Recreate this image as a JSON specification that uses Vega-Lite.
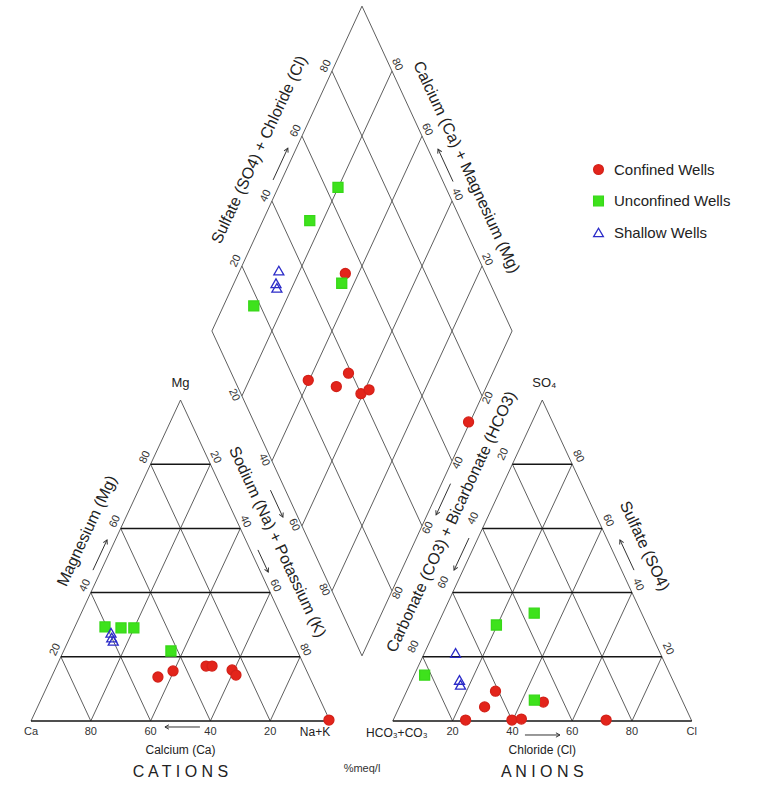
{
  "$schema": "https://vega.github.io/schema/vega-lite/v6.json",
  "width": 758,
  "height": 785,
  "padding": 0,
  "autosize": {"type": "none"},
  "background": "#ffffff",
  "config": {
    "view": {"stroke": null},
    "text": {"font": "Liberation Sans"},
    "legend": {"labelFont": "Liberation Sans"}
  },
  "datasets": {
    "samples": [
      {"well": "Confined Wells", "Ca": 50.7, "Mg": 13.7, "NaK": 35.6, "HCO3": 46.7, "SO4": 5.9, "Cl": 47.4},
      {"well": "Confined Wells", "Ca": 44.7, "Mg": 15.6, "NaK": 39.7, "HCO3": 75.5, "SO4": 0.3, "Cl": 24.2},
      {"well": "Confined Wells", "Ca": 32.9, "Mg": 17.1, "NaK": 50.0, "HCO3": 67.1, "SO4": 4.4, "Cl": 28.5},
      {"well": "Confined Wells", "Ca": 30.9, "Mg": 17.1, "NaK": 52.0, "HCO3": 61.0, "SO4": 9.3, "Cl": 29.7},
      {"well": "Confined Wells", "Ca": 24.8, "Mg": 15.9, "NaK": 59.3, "HCO3": 60.0, "SO4": 0.3, "Cl": 39.7},
      {"well": "Confined Wells", "Ca": 24.3, "Mg": 14.3, "NaK": 61.4, "HCO3": 56.7, "SO4": 0.6, "Cl": 42.7},
      {"well": "Confined Wells", "Ca": 0.2, "Mg": 0.3, "NaK": 99.5, "HCO3": 28.5, "SO4": 0.3, "Cl": 71.2},
      {"well": "Unconfined Wells", "Ca": 60.6, "Mg": 29.3, "NaK": 10.1, "HCO3": 82.2, "SO4": 14.3, "Cl": 3.5},
      {"well": "Unconfined Wells", "Ca": 55.4, "Mg": 29.0, "NaK": 15.6, "HCO3": 50.4, "SO4": 29.9, "Cl": 19.7},
      {"well": "Unconfined Wells", "Ca": 51.1, "Mg": 29.0, "NaK": 19.9, "HCO3": 35.9, "SO4": 33.6, "Cl": 30.5},
      {"well": "Unconfined Wells", "Ca": 42.3, "Mg": 21.8, "NaK": 35.9, "HCO3": 49.4, "SO4": 6.5, "Cl": 44.1},
      {"well": "Shallow Wells", "Ca": 59.5, "Mg": 27.5, "NaK": 13.0, "HCO3": 68.4, "SO4": 21.2, "Cl": 10.4},
      {"well": "Shallow Wells", "Ca": 60.0, "Mg": 26.0, "NaK": 14.0, "HCO3": 71.3, "SO4": 12.8, "Cl": 15.9},
      {"well": "Shallow Wells", "Ca": 60.0, "Mg": 25.0, "NaK": 15.0, "HCO3": 71.7, "SO4": 11.3, "Cl": 17.0}
    ],
    "grid": [
      {"panel": "cat", "a1": 0, "b1": 0, "a2": 0, "b2": 100},
      {"panel": "cat", "a1": 20, "b1": 0, "a2": 20, "b2": 80},
      {"panel": "cat", "a1": 40, "b1": 0, "a2": 40, "b2": 60},
      {"panel": "cat", "a1": 60, "b1": 0, "a2": 60, "b2": 40},
      {"panel": "cat", "a1": 80, "b1": 0, "a2": 80, "b2": 20},
      {"panel": "cat", "a1": 0, "b1": 0, "a2": 100, "b2": 0},
      {"panel": "cat", "a1": 0, "b1": 20, "a2": 80, "b2": 20},
      {"panel": "cat", "a1": 0, "b1": 40, "a2": 60, "b2": 40},
      {"panel": "cat", "a1": 0, "b1": 60, "a2": 40, "b2": 60},
      {"panel": "cat", "a1": 0, "b1": 80, "a2": 20, "b2": 80},
      {"panel": "cat", "a1": 0, "b1": 100, "a2": 100, "b2": 0},
      {"panel": "cat", "a1": 0, "b1": 80, "a2": 80, "b2": 0},
      {"panel": "cat", "a1": 0, "b1": 60, "a2": 60, "b2": 0},
      {"panel": "cat", "a1": 0, "b1": 40, "a2": 40, "b2": 0},
      {"panel": "cat", "a1": 0, "b1": 20, "a2": 20, "b2": 0},
      {"panel": "an", "a1": 0, "b1": 0, "a2": 0, "b2": 100},
      {"panel": "an", "a1": 20, "b1": 0, "a2": 20, "b2": 80},
      {"panel": "an", "a1": 40, "b1": 0, "a2": 40, "b2": 60},
      {"panel": "an", "a1": 60, "b1": 0, "a2": 60, "b2": 40},
      {"panel": "an", "a1": 80, "b1": 0, "a2": 80, "b2": 20},
      {"panel": "an", "a1": 0, "b1": 0, "a2": 100, "b2": 0},
      {"panel": "an", "a1": 0, "b1": 20, "a2": 80, "b2": 20},
      {"panel": "an", "a1": 0, "b1": 40, "a2": 60, "b2": 40},
      {"panel": "an", "a1": 0, "b1": 60, "a2": 40, "b2": 60},
      {"panel": "an", "a1": 0, "b1": 80, "a2": 20, "b2": 80},
      {"panel": "an", "a1": 0, "b1": 100, "a2": 100, "b2": 0},
      {"panel": "an", "a1": 0, "b1": 80, "a2": 80, "b2": 0},
      {"panel": "an", "a1": 0, "b1": 60, "a2": 60, "b2": 0},
      {"panel": "an", "a1": 0, "b1": 40, "a2": 40, "b2": 0},
      {"panel": "an", "a1": 0, "b1": 20, "a2": 20, "b2": 0},
      {"panel": "dia", "a1": 0, "b1": 0, "a2": 0, "b2": 100},
      {"panel": "dia", "a1": 20, "b1": 0, "a2": 20, "b2": 100},
      {"panel": "dia", "a1": 40, "b1": 0, "a2": 40, "b2": 100},
      {"panel": "dia", "a1": 60, "b1": 0, "a2": 60, "b2": 100},
      {"panel": "dia", "a1": 80, "b1": 0, "a2": 80, "b2": 100},
      {"panel": "dia", "a1": 100, "b1": 0, "a2": 100, "b2": 100},
      {"panel": "dia", "a1": 0, "b1": 0, "a2": 100, "b2": 0},
      {"panel": "dia", "a1": 0, "b1": 20, "a2": 100, "b2": 20},
      {"panel": "dia", "a1": 0, "b1": 40, "a2": 100, "b2": 40},
      {"panel": "dia", "a1": 0, "b1": 60, "a2": 100, "b2": 60},
      {"panel": "dia", "a1": 0, "b1": 80, "a2": 100, "b2": 80},
      {"panel": "dia", "a1": 0, "b1": 100, "a2": 100, "b2": 100}
    ],
    "annot": [
      {"edge": "catL", "kind": "tick", "v": 20, "label": "20"},
      {"edge": "catL", "kind": "tick", "v": 40, "label": "40"},
      {"edge": "catL", "kind": "tick", "v": 60, "label": "60"},
      {"edge": "catL", "kind": "tick", "v": 80, "label": "80"},
      {"edge": "catL", "kind": "vertex", "v": 100, "label": "Mg"},
      {"edge": "catL", "kind": "title", "v": 55.3, "label": "Magnesium (Mg)"},
      {"edge": "catL", "kind": "arrow", "v": 47, "v2": 56.4},
      {"edge": "catR", "kind": "tick", "v": 20, "label": "20"},
      {"edge": "catR", "kind": "tick", "v": 40, "label": "40"},
      {"edge": "catR", "kind": "tick", "v": 60, "label": "60"},
      {"edge": "catR", "kind": "tick", "v": 80, "label": "80"},
      {"edge": "catR", "kind": "title", "v": 47.9, "label": "Sodium (Na) + Potassium (K)"},
      {"edge": "catR", "kind": "arrow", "v": 46.7, "v2": 53.6},
      {"edge": "catB", "kind": "tick", "v": 20, "label": "20"},
      {"edge": "catB", "kind": "tick", "v": 40, "label": "40"},
      {"edge": "catB", "kind": "tick", "v": 60, "label": "60"},
      {"edge": "catB", "kind": "tick", "v": 80, "label": "80"},
      {"edge": "catB", "kind": "tick", "v": 100, "label": "Ca"},
      {"edge": "catB", "kind": "corner", "v": 0, "label": "Na+K"},
      {"edge": "catB", "kind": "sub", "v": 50, "label": "Calcium (Ca)"},
      {"edge": "catB", "kind": "head", "v": 50, "label": "C A T I O N S"},
      {"edge": "catB", "kind": "arrow", "v": 43.5, "v2": 55.2},
      {"edge": "dLL", "kind": "tick", "v": 20, "label": "20"},
      {"edge": "dLL", "kind": "tick", "v": 40, "label": "40"},
      {"edge": "dLL", "kind": "tick", "v": 60, "label": "60"},
      {"edge": "dLL", "kind": "tick", "v": 80, "label": "80"},
      {"edge": "dLL", "kind": "arrow", "v": 49, "v2": 57.3},
      {"edge": "dLL", "kind": "unit", "v": 100, "label": "%meq/l"},
      {"edge": "dUL", "kind": "tick", "v": 20, "label": "20"},
      {"edge": "dUL", "kind": "tick", "v": 40, "label": "40"},
      {"edge": "dUL", "kind": "tick", "v": 60, "label": "60"},
      {"edge": "dUL", "kind": "tick", "v": 80, "label": "80"},
      {"edge": "dUL", "kind": "title", "v": 51.5, "label": "Sulfate (SO4) + Chloride (Cl)"},
      {"edge": "dUL", "kind": "arrow", "v": 46.5, "v2": 56.3},
      {"edge": "dUR", "kind": "tick", "v": 20, "label": "20"},
      {"edge": "dUR", "kind": "tick", "v": 40, "label": "40"},
      {"edge": "dUR", "kind": "tick", "v": 60, "label": "60"},
      {"edge": "dUR", "kind": "tick", "v": 80, "label": "80"},
      {"edge": "dUR", "kind": "title", "v": 46.9, "label": "Calcium (Ca) + Magnesium (Mg)"},
      {"edge": "dUR", "kind": "arrow", "v": 46, "v2": 56},
      {"edge": "dLR", "kind": "tick", "v": 20, "label": "20"},
      {"edge": "dLR", "kind": "tick", "v": 40, "label": "40"},
      {"edge": "dLR", "kind": "tick", "v": 60, "label": "60"},
      {"edge": "dLR", "kind": "tick", "v": 80, "label": "80"},
      {"edge": "dLR", "kind": "title", "v": 55.5, "label": "Carbonate (CO3) + Bicarbonate (HCO3)"},
      {"edge": "dLR", "kind": "arrow", "v": 47, "v2": 56.6},
      {"edge": "anL", "kind": "tick", "v": 20, "label": "20"},
      {"edge": "anL", "kind": "tick", "v": 40, "label": "40"},
      {"edge": "anL", "kind": "tick", "v": 60, "label": "60"},
      {"edge": "anL", "kind": "tick", "v": 80, "label": "80"},
      {"edge": "anL", "kind": "arrow", "v": 43, "v2": 53},
      {"edge": "anR", "kind": "tick", "v": 20, "label": "20"},
      {"edge": "anR", "kind": "tick", "v": 40, "label": "40"},
      {"edge": "anR", "kind": "tick", "v": 60, "label": "60"},
      {"edge": "anR", "kind": "tick", "v": 80, "label": "80"},
      {"edge": "anR", "kind": "vertex", "v": 100, "label": "SO₄"},
      {"edge": "anR", "kind": "title", "v": 50.4, "label": "Sulfate (SO4)"},
      {"edge": "anR", "kind": "arrow", "v": 47, "v2": 56.4},
      {"edge": "anB", "kind": "tick", "v": 20, "label": "20"},
      {"edge": "anB", "kind": "tick", "v": 40, "label": "40"},
      {"edge": "anB", "kind": "tick", "v": 60, "label": "60"},
      {"edge": "anB", "kind": "tick", "v": 80, "label": "80"},
      {"edge": "anB", "kind": "tick", "v": 100, "label": "Cl"},
      {"edge": "anB", "kind": "corner", "v": 0, "label": "HCO₃+CO₃"},
      {"edge": "anB", "kind": "sub", "v": 50, "label": "Chloride (Cl)"},
      {"edge": "anB", "kind": "head", "v": 50, "label": "A N I O N S"},
      {"edge": "anB", "kind": "arrow", "v": 44.2, "v2": 55.9}
    ]
  },
  "encoding": {
    "x": {"field": "x", "type": "quantitative", "scale": {"domain": [-10.368, 243.144], "nice": false, "zero": false}, "axis": null},
    "y": {"field": "y", "type": "quantitative", "scale": {"domain": [-19.938, 224.611], "nice": false, "zero": false}, "axis": null}
  },
  "layer": [
    {
      "data": {"name": "grid"},
      "transform": [
        {"calculate": "datum.panel === 'dia' ? 60.5 + 0.502 * (datum.a1 + datum.b1) : (datum.panel === 'an' ? 121 : 0) + datum.b1 + datum.a1 / 2", "as": "x"},
        {"calculate": "datum.panel === 'dia' ? 121.5 + 1.012 * (datum.b1 - datum.a1) : datum.a1", "as": "y"},
        {"calculate": "datum.panel === 'dia' ? 60.5 + 0.502 * (datum.a2 + datum.b2) : (datum.panel === 'an' ? 121 : 0) + datum.b2 + datum.a2 / 2", "as": "x2"},
        {"calculate": "datum.panel === 'dia' ? 121.5 + 1.012 * (datum.b2 - datum.a2) : datum.a2", "as": "y2"}
      ],
      "encoding": {"x2": {"field": "x2"}, "y2": {"field": "y2"}},
      "layer": [
        {"transform": [{"filter": "datum.panel === 'dia' || datum.a1 !== datum.a2"}], "mark": {"type": "rule", "color": "#4d4d4d", "strokeWidth": 0.9}},
        {"transform": [{"filter": "datum.panel !== 'dia' && datum.a1 === datum.a2"}], "mark": {"type": "rule", "color": "#151515", "strokeWidth": 1.5}}
      ]
    },
    {
      "data": {"name": "annot"},
      "transform": [
        {"filter": "datum.edge === 'catL'"},
        {"calculate": "datum.v / 2", "as": "x"}, {"calculate": "datum.v", "as": "y"},
        {"calculate": "datum.v2 / 2", "as": "x2"}, {"calculate": "datum.v2", "as": "y2"}
      ],
      "layer": [
        {"transform": [{"filter": "datum.kind === 'tick'"}], "mark": {"type": "text", "angle": -65, "dx": 4, "dy": -8, "fontSize": 11, "color": "#333"}, "encoding": {"text": {"field": "label"}}},
        {"transform": [{"filter": "datum.kind === 'vertex'"}], "mark": {"type": "text", "dy": -17, "fontSize": 13, "color": "#222"}, "encoding": {"text": {"field": "label"}}},
        {"transform": [{"filter": "datum.kind === 'title'"}], "mark": {"type": "text", "angle": -65, "dy": -29.4, "fontSize": 16, "color": "#222"}, "encoding": {"text": {"field": "label"}}},
        {"transform": [{"filter": "datum.kind === 'arrow'"}], "mark": {"type": "rule", "color": "#333", "strokeWidth": 1, "xOffset": -8.3, "x2Offset": -8.3}, "encoding": {"x2": {"field": "x2"}, "y2": {"field": "y2"}}},
        {"transform": [{"filter": "datum.kind === 'arrow'"}, {"calculate": "datum.x2", "as": "x"}, {"calculate": "datum.y2", "as": "y"}], "mark": {"type": "point", "shape": "M-1,-0.55L0,0L-1,0.55", "filled": false, "size": 64, "stroke": "#333", "strokeWidth": 1, "opacity": 1, "angle": -65, "xOffset": -8.3}}
      ]
    },
    {
      "data": {"name": "annot"},
      "transform": [
        {"filter": "datum.edge === 'catR'"},
        {"calculate": "50 + datum.v / 2", "as": "x"}, {"calculate": "100 - datum.v", "as": "y"},
        {"calculate": "50 + datum.v2 / 2", "as": "x2"}, {"calculate": "100 - datum.v2", "as": "y2"}
      ],
      "layer": [
        {"transform": [{"filter": "datum.kind === 'tick'"}], "mark": {"type": "text", "angle": 65, "dx": -4.2, "dy": -7.5, "fontSize": 11, "color": "#333"}, "encoding": {"text": {"field": "label"}}},
        {"transform": [{"filter": "datum.kind === 'title'"}], "mark": {"type": "text", "angle": 65, "dy": -27.9, "fontSize": 16, "color": "#222"}, "encoding": {"text": {"field": "label"}}},
        {"transform": [{"filter": "datum.kind === 'arrow'"}], "mark": {"type": "rule", "color": "#333", "strokeWidth": 1, "xOffset": 7.6, "x2Offset": 7.6}, "encoding": {"x2": {"field": "x2"}, "y2": {"field": "y2"}}},
        {"transform": [{"filter": "datum.kind === 'arrow'"}, {"calculate": "datum.x2", "as": "x"}, {"calculate": "datum.y2", "as": "y"}], "mark": {"type": "point", "shape": "M-1,-0.55L0,0L-1,0.55", "filled": false, "size": 64, "stroke": "#333", "strokeWidth": 1, "opacity": 1, "angle": 65, "xOffset": 7.6}}
      ]
    },
    {
      "data": {"name": "annot"},
      "transform": [
        {"filter": "datum.edge === 'catB'"},
        {"calculate": "100 - datum.v", "as": "x"}, {"calculate": "0", "as": "y"},
        {"calculate": "100 - datum.v2", "as": "x2"}, {"calculate": "0", "as": "y2"}
      ],
      "layer": [
        {"transform": [{"filter": "datum.kind === 'tick'"}], "mark": {"type": "text", "dy": 11, "fontSize": 11, "color": "#333"}, "encoding": {"text": {"field": "label"}}},
        {"transform": [{"filter": "datum.kind === 'corner'"}], "mark": {"type": "text", "dx": -15, "dy": 11, "fontSize": 12, "color": "#222"}, "encoding": {"text": {"field": "label"}}},
        {"transform": [{"filter": "datum.kind === 'sub'"}], "mark": {"type": "text", "dy": 29, "fontSize": 12, "color": "#222"}, "encoding": {"text": {"field": "label"}}},
        {"transform": [{"filter": "datum.kind === 'head'"}], "mark": {"type": "text", "dy": 51, "fontSize": 16, "color": "#222"}, "encoding": {"text": {"field": "label"}}},
        {"transform": [{"filter": "datum.kind === 'arrow'"}], "mark": {"type": "rule", "color": "#333", "strokeWidth": 1, "yOffset": 6, "y2Offset": 6}, "encoding": {"x2": {"field": "x2"}, "y2": {"field": "y2"}}},
        {"transform": [{"filter": "datum.kind === 'arrow'"}, {"calculate": "datum.x2", "as": "x"}, {"calculate": "datum.y2", "as": "y"}], "mark": {"type": "point", "shape": "M-1,-0.55L0,0L-1,0.55", "filled": false, "size": 64, "stroke": "#333", "strokeWidth": 1, "opacity": 1, "angle": 180, "yOffset": 6}}
      ]
    },
    {
      "data": {"name": "annot"},
      "transform": [
        {"filter": "datum.edge === 'dLL'"},
        {"calculate": "60.5 + 0.502 * datum.v", "as": "x"}, {"calculate": "121.5 - 1.012 * datum.v", "as": "y"},
        {"calculate": "60.5 + 0.502 * datum.v2", "as": "x2"}, {"calculate": "121.5 - 1.012 * datum.v2", "as": "y2"}
      ],
      "layer": [
        {"transform": [{"filter": "datum.kind === 'tick'"}], "mark": {"type": "text", "angle": 65, "dx": -4.3, "dy": 6.8, "fontSize": 11, "color": "#333"}, "encoding": {"text": {"field": "label"}}},
        {"transform": [{"filter": "datum.kind === 'unit'"}], "mark": {"type": "text", "dy": 113, "fontSize": 11, "color": "#333"}, "encoding": {"text": {"field": "label"}}},
        {"transform": [{"filter": "datum.kind === 'arrow'"}], "mark": {"type": "rule", "color": "#333", "strokeWidth": 1, "xOffset": -15, "x2Offset": -15}, "encoding": {"x2": {"field": "x2"}, "y2": {"field": "y2"}}},
        {"transform": [{"filter": "datum.kind === 'arrow'"}, {"calculate": "datum.x2", "as": "x"}, {"calculate": "datum.y2", "as": "y"}], "mark": {"type": "point", "shape": "M-1,-0.55L0,0L-1,0.55", "filled": false, "size": 64, "stroke": "#333", "strokeWidth": 1, "opacity": 1, "angle": 65, "xOffset": -15}}
      ]
    },
    {
      "data": {"name": "annot"},
      "transform": [
        {"filter": "datum.edge === 'dUL'"},
        {"calculate": "60.5 + 0.502 * datum.v", "as": "x"}, {"calculate": "121.5 + 1.012 * datum.v", "as": "y"},
        {"calculate": "60.5 + 0.502 * datum.v2", "as": "x2"}, {"calculate": "121.5 + 1.012 * datum.v2", "as": "y2"}
      ],
      "layer": [
        {"transform": [{"filter": "datum.kind === 'tick'"}], "mark": {"type": "text", "angle": -65, "dx": 2, "dy": -7.6, "fontSize": 11, "color": "#333"}, "encoding": {"text": {"field": "label"}}},
        {"transform": [{"filter": "datum.kind === 'title'"}], "mark": {"type": "text", "angle": -65, "dy": -33, "fontSize": 16, "color": "#222"}, "encoding": {"text": {"field": "label"}}},
        {"transform": [{"filter": "datum.kind === 'arrow'"}], "mark": {"type": "rule", "color": "#333", "strokeWidth": 1, "xOffset": -8.6, "x2Offset": -8.6}, "encoding": {"x2": {"field": "x2"}, "y2": {"field": "y2"}}},
        {"transform": [{"filter": "datum.kind === 'arrow'"}, {"calculate": "datum.x2", "as": "x"}, {"calculate": "datum.y2", "as": "y"}], "mark": {"type": "point", "shape": "M-1,-0.55L0,0L-1,0.55", "filled": false, "size": 64, "stroke": "#333", "strokeWidth": 1, "opacity": 1, "angle": -65, "xOffset": -8.6}}
      ]
    },
    {
      "data": {"name": "annot"},
      "transform": [
        {"filter": "datum.edge === 'dUR'"},
        {"calculate": "60.5 + 0.502 * (200 - datum.v)", "as": "x"}, {"calculate": "121.5 + 1.012 * datum.v", "as": "y"},
        {"calculate": "60.5 + 0.502 * (200 - datum.v2)", "as": "x2"}, {"calculate": "121.5 + 1.012 * datum.v2", "as": "y2"}
      ],
      "layer": [
        {"transform": [{"filter": "datum.kind === 'tick'"}], "mark": {"type": "text", "angle": 65, "dx": -3.8, "dy": -7.3, "fontSize": 11, "color": "#333"}, "encoding": {"text": {"field": "label"}}},
        {"transform": [{"filter": "datum.kind === 'title'"}], "mark": {"type": "text", "angle": 65, "dy": -27.2, "fontSize": 16, "color": "#222"}, "encoding": {"text": {"field": "label"}}},
        {"transform": [{"filter": "datum.kind === 'arrow'"}], "mark": {"type": "rule", "color": "#333", "strokeWidth": 1, "xOffset": 10, "x2Offset": 10}, "encoding": {"x2": {"field": "x2"}, "y2": {"field": "y2"}}},
        {"transform": [{"filter": "datum.kind === 'arrow'"}, {"calculate": "datum.x2", "as": "x"}, {"calculate": "datum.y2", "as": "y"}], "mark": {"type": "point", "shape": "M-1,-0.55L0,0L-1,0.55", "filled": false, "size": 64, "stroke": "#333", "strokeWidth": 1, "opacity": 1, "angle": -115, "xOffset": 10}}
      ]
    },
    {
      "data": {"name": "annot"},
      "transform": [
        {"filter": "datum.edge === 'dLR'"},
        {"calculate": "60.5 + 0.502 * (200 - datum.v)", "as": "x"}, {"calculate": "121.5 - 1.012 * datum.v", "as": "y"},
        {"calculate": "60.5 + 0.502 * (200 - datum.v2)", "as": "x2"}, {"calculate": "121.5 - 1.012 * datum.v2", "as": "y2"}
      ],
      "layer": [
        {"transform": [{"filter": "datum.kind === 'tick'"}], "mark": {"type": "text", "angle": -65, "dx": 0.7, "dy": 6.3, "fontSize": 11, "color": "#333"}, "encoding": {"text": {"field": "label"}}},
        {"transform": [{"filter": "datum.kind === 'title'"}], "mark": {"type": "text", "angle": -65, "dy": 25, "fontSize": 16, "color": "#222"}, "encoding": {"text": {"field": "label"}}},
        {"transform": [{"filter": "datum.kind === 'arrow'"}], "mark": {"type": "rule", "color": "#333", "strokeWidth": 1, "xOffset": 9, "x2Offset": 9}, "encoding": {"x2": {"field": "x2"}, "y2": {"field": "y2"}}},
        {"transform": [{"filter": "datum.kind === 'arrow'"}, {"calculate": "datum.x2", "as": "x"}, {"calculate": "datum.y2", "as": "y"}], "mark": {"type": "point", "shape": "M-1,-0.55L0,0L-1,0.55", "filled": false, "size": 64, "stroke": "#333", "strokeWidth": 1, "opacity": 1, "angle": 115, "xOffset": 9}}
      ]
    },
    {
      "data": {"name": "annot"},
      "transform": [
        {"filter": "datum.edge === 'anL'"},
        {"calculate": "121 + (100 - datum.v) / 2", "as": "x"}, {"calculate": "100 - datum.v", "as": "y"},
        {"calculate": "121 + (100 - datum.v2) / 2", "as": "x2"}, {"calculate": "100 - datum.v2", "as": "y2"}
      ],
      "layer": [
        {"transform": [{"filter": "datum.kind === 'tick'"}], "mark": {"type": "text", "angle": -65, "dx": 5.3, "dy": -12.4, "fontSize": 11, "color": "#333"}, "encoding": {"text": {"field": "label"}}},
        {"transform": [{"filter": "datum.kind === 'arrow'"}], "mark": {"type": "rule", "color": "#333", "strokeWidth": 1, "xOffset": -9, "x2Offset": -9}, "encoding": {"x2": {"field": "x2"}, "y2": {"field": "y2"}}},
        {"transform": [{"filter": "datum.kind === 'arrow'"}, {"calculate": "datum.x2", "as": "x"}, {"calculate": "datum.y2", "as": "y"}], "mark": {"type": "point", "shape": "M-1,-0.55L0,0L-1,0.55", "filled": false, "size": 64, "stroke": "#333", "strokeWidth": 1, "opacity": 1, "angle": 115, "xOffset": -9}}
      ]
    },
    {
      "data": {"name": "annot"},
      "transform": [
        {"filter": "datum.edge === 'anR'"},
        {"calculate": "221 - datum.v / 2", "as": "x"}, {"calculate": "datum.v", "as": "y"},
        {"calculate": "221 - datum.v2 / 2", "as": "x2"}, {"calculate": "datum.v2", "as": "y2"}
      ],
      "layer": [
        {"transform": [{"filter": "datum.kind === 'tick'"}], "mark": {"type": "text", "angle": 65, "dx": -4.7, "dy": -8.8, "fontSize": 11, "color": "#333"}, "encoding": {"text": {"field": "label"}}},
        {"transform": [{"filter": "datum.kind === 'vertex'"}], "mark": {"type": "text", "dx": 2, "dy": -17, "fontSize": 13, "color": "#222"}, "encoding": {"text": {"field": "label"}}},
        {"transform": [{"filter": "datum.kind === 'title'"}], "mark": {"type": "text", "angle": 65, "dy": -31, "fontSize": 16, "color": "#222"}, "encoding": {"text": {"field": "label"}}},
        {"transform": [{"filter": "datum.kind === 'arrow'"}], "mark": {"type": "rule", "color": "#333", "strokeWidth": 1, "xOffset": 12.5, "x2Offset": 12.5}, "encoding": {"x2": {"field": "x2"}, "y2": {"field": "y2"}}},
        {"transform": [{"filter": "datum.kind === 'arrow'"}, {"calculate": "datum.x2", "as": "x"}, {"calculate": "datum.y2", "as": "y"}], "mark": {"type": "point", "shape": "M-1,-0.55L0,0L-1,0.55", "filled": false, "size": 64, "stroke": "#333", "strokeWidth": 1, "opacity": 1, "angle": -115, "xOffset": 12.5}}
      ]
    },
    {
      "data": {"name": "annot"},
      "transform": [
        {"filter": "datum.edge === 'anB'"},
        {"calculate": "121 + datum.v", "as": "x"}, {"calculate": "0", "as": "y"},
        {"calculate": "121 + datum.v2", "as": "x2"}, {"calculate": "0", "as": "y2"}
      ],
      "layer": [
        {"transform": [{"filter": "datum.kind === 'tick'"}], "mark": {"type": "text", "dy": 11, "fontSize": 11, "color": "#333"}, "encoding": {"text": {"field": "label"}}},
        {"transform": [{"filter": "datum.kind === 'corner'"}], "mark": {"type": "text", "dx": 4, "dy": 12, "fontSize": 12, "color": "#222"}, "encoding": {"text": {"field": "label"}}},
        {"transform": [{"filter": "datum.kind === 'sub'"}], "mark": {"type": "text", "dy": 29, "fontSize": 12, "color": "#222"}, "encoding": {"text": {"field": "label"}}},
        {"transform": [{"filter": "datum.kind === 'head'"}], "mark": {"type": "text", "dy": 51, "fontSize": 16, "color": "#222"}, "encoding": {"text": {"field": "label"}}},
        {"transform": [{"filter": "datum.kind === 'arrow'"}], "mark": {"type": "rule", "color": "#333", "strokeWidth": 1, "yOffset": 14, "y2Offset": 14}, "encoding": {"x2": {"field": "x2"}, "y2": {"field": "y2"}}},
        {"transform": [{"filter": "datum.kind === 'arrow'"}, {"calculate": "datum.x2", "as": "x"}, {"calculate": "datum.y2", "as": "y"}], "mark": {"type": "point", "shape": "M-1,-0.55L0,0L-1,0.55", "filled": false, "size": 64, "stroke": "#333", "strokeWidth": 1, "opacity": 1, "angle": 0, "yOffset": 14}}
      ]
    },
    {
      "data": {"name": "samples"},
      "encoding": {
        "shape": {
          "field": "well", "type": "nominal",
          "scale": {"domain": ["Confined Wells", "Unconfined Wells", "Shallow Wells"], "range": ["circle", "square", "triangle-up"]},
          "legend": {"title": null, "orient": "none", "legendX": 591, "legendY": 162, "labelFontSize": 15, "labelColor": "#222", "symbolSize": 95, "rowPadding": 15.5, "labelOffset": 8, "symbolStrokeWidth": 1.3}
        },
        "fill": {
          "field": "well", "type": "nominal",
          "scale": {"domain": ["Confined Wells", "Unconfined Wells", "Shallow Wells"], "range": ["#e3241b", "#3ee21c", "rgba(255,255,255,0)"]}
        },
        "stroke": {
          "field": "well", "type": "nominal",
          "scale": {"domain": ["Confined Wells", "Unconfined Wells", "Shallow Wells"], "range": ["#d42119", "#37d818", "#2b2bc8"]}
        }
      },
      "layer": [
        {"transform": [{"calculate": "datum.NaK + datum.Mg / 2", "as": "x"}, {"calculate": "datum.Mg", "as": "y"}], "mark": {"type": "point", "size": 100, "strokeWidth": 1.3, "opacity": 1}},
        {"transform": [{"calculate": "121 + datum.Cl + datum.SO4 / 2", "as": "x"}, {"calculate": "datum.SO4", "as": "y"}], "mark": {"type": "point", "size": 100, "strokeWidth": 1.3, "opacity": 1}},
        {"transform": [{"calculate": "60.5 + 0.502 * (datum.NaK + datum.SO4 + datum.Cl)", "as": "x"}, {"calculate": "121.5 + 1.012 * (datum.SO4 + datum.Cl - datum.NaK)", "as": "y"}], "mark": {"type": "point", "size": 100, "strokeWidth": 1.3, "opacity": 1}}
      ]
    }
  ]
}
